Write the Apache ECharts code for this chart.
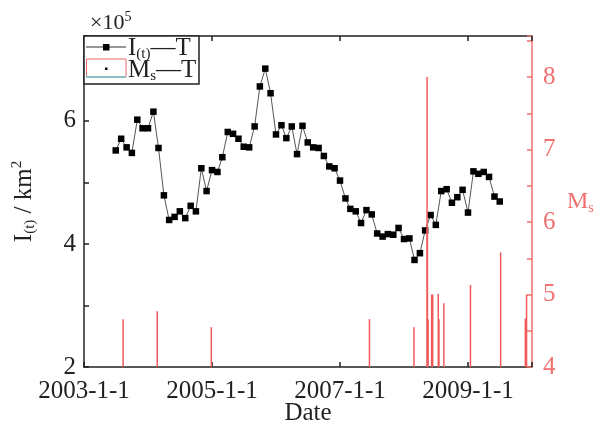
<!DOCTYPE html>
<html>
<head>
<meta charset="utf-8">
<script src="https://cdn.jsdelivr.net/npm/echarts@6/dist/echarts.min.js"></script>
<style>html,body{margin:0;padding:0;background:#fff}#c{width:600px;height:425px}</style>
</head>
<body>
<div id="c"></div>
<script>
// I(t) monthly series (units of 10^5 km^2)
const months = [
 '2003-07','2003-08','2003-09','2003-10','2003-11','2003-12',
 '2004-01','2004-02','2004-03','2004-04','2004-05','2004-06','2004-07','2004-08','2004-09','2004-10','2004-11','2004-12',
 '2005-01','2005-02','2005-03','2005-04','2005-05','2005-06','2005-07','2005-08','2005-09','2005-10','2005-11','2005-12',
 '2006-01','2006-02','2006-03','2006-04','2006-05','2006-06','2006-07','2006-08','2006-09','2006-10','2006-11','2006-12',
 '2007-01','2007-02','2007-03','2007-04','2007-05','2007-06','2007-07','2007-08','2007-09','2007-10','2007-11','2007-12',
 '2008-01','2008-02','2008-03','2008-04','2008-05','2008-06','2008-07','2008-08','2008-09','2008-10','2008-11','2008-12',
 '2009-01','2009-02','2009-03','2009-04','2009-05','2009-06','2009-07'
];
const itValues = [
 5.52,5.71,5.57,5.48,6.02,5.88,
 5.88,6.15,5.56,4.79,4.39,4.44,4.53,4.42,4.62,4.53,5.23,4.86,
 5.20,5.17,5.41,5.82,5.79,5.71,5.58,5.57,5.91,6.56,6.85,6.45,
 5.78,5.93,5.72,5.91,5.46,5.92,5.65,5.57,5.56,5.43,5.26,5.23,
 5.03,4.74,4.57,4.53,4.34,4.55,4.48,4.17,4.12,4.16,4.15,4.26,
 4.08,4.09,3.74,3.85,4.22,4.47,4.31,4.86,4.89,4.67,4.76,4.88,
 4.51,5.18,5.14,5.17,5.09,4.77,4.69
];
// Earthquakes (Ms)
const quakeDates = [
 '2003-08-12','2004-02-23','2004-12-28','2007-06-18','2008-02-27',
 '2008-05-12','2008-05-14','2008-05-18','2008-06-07','2008-06-13',
 '2008-07-15','2008-07-19','2008-08-16','2009-01-15','2009-07-06',
 '2009-11-24','2009-12-01'
];
const quakeMs = [
 4.66,4.77,4.55,4.66,4.55,
 8.0,5.9,4.66,5.0,5.0,
 5.01,4.66,4.88,5.13,5.58,
 4.67,5.0
];
const xTickYears = [2003,2005,2007,2009];

const BASE = 2003;
function yearsFrom(s){
  const p = s.split('-').map(Number);
  const y = p[0], m = p[1], d = p[2] || 1;
  const t0 = Date.UTC(y,0,1), t1 = Date.UTC(y+1,0,1);
  return y + (Date.UTC(y,m-1,d)-t0)/(t1-t0) - BASE;
}
const itData = months.map((m,i)=>[yearsFrom(m), itValues[i]]);
const qData = quakeDates.map((d,i)=>[yearsFrom(d), quakeMs[i]]);

const F = 'Liberation Serif';
const RED = '#f07070';
const INK = '#222';
const isInt = v => Math.abs(v - Math.round(v)) < 1e-6;

const chart = echarts.init(document.getElementById('c'), null, {renderer:'canvas'});
chart.setOption({
  animation:false,
  backgroundColor:'#fff',
  title:{
    text:'{a|×10}{b|5}', left:85, top:5,
    textStyle:{fontWeight:'normal',rich:{
      a:{fontFamily:F,fontSize:22,fontWeight:'normal',color:INK,lineHeight:26},
      b:{fontFamily:F,fontSize:14,fontWeight:'normal',color:INK,verticalAlign:'top',lineHeight:14}
    }}
  },
  grid:{left:84,right:68,top:36,bottom:58,containLabel:false,outerBoundsMode:'none'},
  xAxis:[{
    type:'value', min:0, max:7, interval:2, position:'bottom',
    axisLine:{onZero:false,lineStyle:{color:INK,width:1.5}},
    axisTick:{inside:true,length:5,lineStyle:{color:INK,width:1.5}},
    splitLine:{show:false},
    axisLabel:{fontFamily:F,fontSize:25,color:INK,margin:12,
      formatter:v=> (isInt(v) && xTickYears.indexOf(BASE+Math.round(v))>=0) ? (BASE+Math.round(v))+'-1-1' : ''},
    name:'Date', nameLocation:'middle', nameGap:34, nameMoveOverlap:false,
    nameTextStyle:{fontFamily:F,fontSize:25,color:INK}
  },{
    type:'value', min:0, max:7, interval:2, position:'top',
    axisLine:{onZero:false,lineStyle:{color:INK,width:1.5}},
    axisTick:{inside:true,length:5,lineStyle:{color:INK,width:1.5}},
    splitLine:{show:false}, axisLabel:{show:false}
  }],
  yAxis:[{
    type:'value', min:2, max:7.38, interval:1, position:'left',
    axisLine:{show:true,onZero:false,lineStyle:{color:INK,width:1.5}},
    axisTick:{show:true,inside:true,length:5,lineStyle:{color:INK,width:1.5}},
    splitLine:{show:false},
    axisLabel:{fontFamily:F,fontSize:25,color:INK,margin:8,
      formatter:v=> (isInt(v) && Math.round(v)%2===0) ? String(Math.round(v)) : ''},
    name:'{a|I}{b|(t)}{a| / km}{c|2}', nameLocation:'middle', nameRotate:90, nameGap:46, nameMoveOverlap:false,
    nameTextStyle:{rich:{
      a:{fontFamily:F,fontSize:25,color:INK,lineHeight:28},
      b:{fontFamily:F,fontSize:15,color:INK,verticalAlign:'bottom',lineHeight:15},
      c:{fontFamily:F,fontSize:15,color:INK,verticalAlign:'top',lineHeight:15}
    }}
  },{
    type:'value', min:4, max:8.566, interval:0.5, position:'right',
    axisLine:{show:true,onZero:false,lineStyle:{color:RED,width:1.5}},
    axisTick:{show:true,inside:true,length:5,lineStyle:{color:RED,width:1.5}},
    splitLine:{show:false},
    axisLabel:{fontFamily:F,fontSize:25,color:RED,margin:11,
      formatter:v=> isInt(v) ? String(Math.round(v)) : ''},
    name:'{a|M}{b|s}', nameLocation:'middle', nameRotate:0, nameGap:35, nameMoveOverlap:false,
    nameTextStyle:{align:'left',rich:{
      a:{fontFamily:F,fontSize:24,color:RED,lineHeight:28},
      b:{fontFamily:F,fontSize:14,color:RED,verticalAlign:'bottom',lineHeight:14}
    }}
  }],
  series:[{
    type:'line', name:'I(t)—T', xAxisIndex:0, yAxisIndex:0,
    data:itData, symbol:'rect', symbolSize:6.5, showSymbol:true,
    itemStyle:{color:'#000'}, lineStyle:{color:'#555',width:1}, z:3
  },{
    type:'bar', name:'Ms—T', xAxisIndex:0, yAxisIndex:1,
    data:qData, barWidth:1.5, itemStyle:{color:'#f25a5a'}, z:4, clip:true
  }],
  graphic:[
    {type:'rect', shape:{x:84,y:36,width:115,height:48}, style:{fill:'#fff',stroke:INK,lineWidth:1.5}, z:10},
    {type:'line', shape:{x1:86,y1:47,x2:126,y2:47}, style:{stroke:'#333',lineWidth:1.2}, z:11},
    {type:'rect', shape:{x:103,y:44,width:6.5,height:6.5}, style:{fill:'#000'}, z:12},
    {type:'text', left:128, top:36, z:11, style:{
      text:'{a|I}{b|(t)}{a|—T}',
      rich:{a:{fontFamily:F,fontSize:25,fill:INK,lineHeight:26},
            b:{fontFamily:F,fontSize:15,fill:INK,verticalAlign:'bottom',lineHeight:15}}}},
    {type:'rect', shape:{x:86.5,y:59,width:39.5,height:18}, style:{fill:'none',stroke:'#f06a6a',lineWidth:1}, z:11},
    {type:'line', shape:{x1:86,y1:77,x2:126,y2:77}, style:{stroke:'#66c2c8',lineWidth:1.5}, z:12},
    {type:'rect', shape:{x:105,y:67.5,width:2.5,height:2.5}, style:{fill:'#000'}, z:12},
    {type:'text', left:128, top:58, z:11, style:{
      text:'{a|M}{b|s}{a|—T}',
      rich:{a:{fontFamily:F,fontSize:25,fill:INK,lineHeight:26},
            b:{fontFamily:F,fontSize:15,fill:INK,verticalAlign:'bottom',lineHeight:15}}}}
  ]
});
</script>
</body>
</html>
